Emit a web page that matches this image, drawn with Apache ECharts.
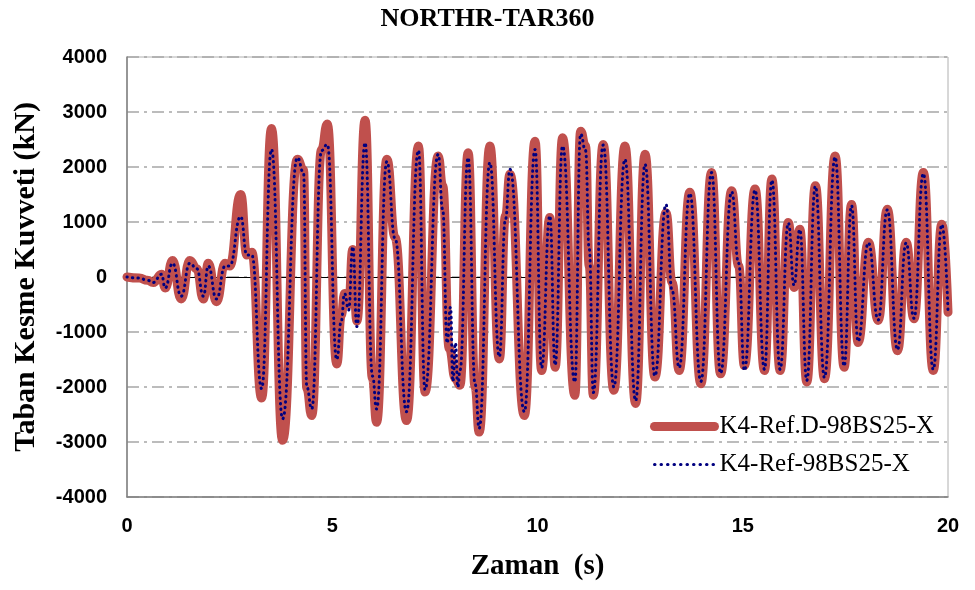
<!DOCTYPE html>
<html>
<head>
<meta charset="utf-8">
<script src="https://cdn.jsdelivr.net/npm/echarts@6/dist/echarts.min.js"></script>
<style>
    html, body { margin: 0; padding: 0; background: #fff; }
    #chart { width: 975px; height: 590px; }
</style>
</head>
<body>
<div id="chart"></div>
<script>
    // peaks and troughs (time s, force kN)
    var redTime = [0, 0.3, 0.5, 0.64, 0.84, 0.93, 1.11, 1.32, 1.53, 1.70, 1.86, 1.98, 2.18, 2.39, 2.50, 2.77, 2.92, 3.04,
        3.28, 3.52, 3.79, 4.15, 4.30, 4.38, 4.50, 4.74, 4.88, 5.11, 5.22, 5.30, 5.40, 5.50, 5.60, 5.80, 5.98, 6.08,
        6.33, 6.53, 6.81, 7.10, 7.26, 7.58, 7.69, 7.85, 8.00, 8.11, 8.31, 8.48, 8.58, 8.84, 9.07, 9.22, 9.33, 9.68,
        9.94, 10.10, 10.30, 10.43, 10.61, 10.91, 11.05, 11.17, 11.26, 11.36, 11.60, 11.86, 12.13, 12.39, 12.62, 12.86,
        13.13, 13.28, 13.45, 13.71, 13.98, 14.24, 14.46, 14.73, 14.90, 15.04, 15.30, 15.53, 15.71, 15.91, 16.11, 16.25,
        16.39, 16.56, 16.77, 16.99, 17.25, 17.47, 17.65, 17.81, 18.06, 18.30, 18.52, 18.77, 18.98, 19.17, 19.40, 19.64,
        19.85, 20.0]
    var redForce = [0, -20, -60, -100, 50, -200, 300, -400, 300, 150, -400, 250, -450, 250, 200, 1500, 400, 450,
        -2200, 2700, -2970, 2140, 1950, -2030, -2520, 2320, 2780, -1580, -700, -300, -500, 500, -800, 2850, -1850, -2640,
        2140, 720, -2610, 2380, -2090, 2200, 1660, -1300, -1850, -1970, 2260, -2000, -2820, 2380, -1490, 1110, 1870, -2520,
        2470, -1700, 1080, -1640, 2530, -2150, 2650, 2380, 200, -2150, 2410, -2060, 2380, -2300, 2230, -1820,
        1170, -100, -1700, 1540, -1940, 1900, -1760, 1570, 200, -1610, 1600, -1700, 1780, -1700, 990, -190,
        870, -1910, 1660, -1850, 2200, -1640, 1320, -1190, 630, -790, 1230, -1340, 630, -760, 1900, -1700,
        960, -640]

    var blueTime = [0, 0.3, 0.5, 0.64, 0.84, 0.93, 1.11, 1.32, 1.53, 1.70, 1.86, 1.98, 2.18, 2.39, 2.50, 2.77, 2.92, 3.04,
        3.28, 3.52, 3.79, 4.15, 4.30, 4.38, 4.50, 4.74, 4.88, 5.11, 5.22, 5.30, 5.40, 5.50, 5.60, 5.80, 5.98, 6.08,
        6.33, 6.53, 6.81, 7.10, 7.26, 7.58, 7.69, 7.80, 7.88, 7.94, 8.00, 8.06, 8.11, 8.31, 8.48, 8.58, 8.84, 9.07,
        9.22, 9.33, 9.68, 9.94, 10.10, 10.30, 10.43, 10.61, 10.91, 11.05, 11.17, 11.26, 11.36, 11.60, 11.86, 12.13,
        12.39, 12.62, 12.86, 13.13, 13.28, 13.45, 13.71, 13.98, 14.24, 14.46, 14.73, 14.90, 15.04, 15.30, 15.53, 15.71,
        15.91, 16.11, 16.25, 16.39, 16.56, 16.77, 16.99, 17.25, 17.47, 17.65, 17.81, 18.06, 18.30, 18.52, 18.77, 18.98,
        19.17, 19.40, 19.64, 19.85, 20.0]
    var blueForce = [0, -20, -60, -100, 50, -200, 250, -350, 250, 150, -350, 200, -400, 200, 200, 1100, 400, 400,
        -2030, 2320, -2580, 2170, 1900, -2000, -2400, 2300, 2410, -1500, -800, -300, -600, 550, -900, 2440, -1800, -2400,
        2100, 700, -2450, 2300, -2050, 2230, 1230, -1200, -550, -1900, -1200, -2000, -1700, 2170, -1950, -2750, 2080, -1450,
        1050, 1960, -2450, 2320, -1650, 1110, -1600, 2380, -1910, 2600, 2300, 510, -2100, 2400, -2000, 2140,
        -2250, 2050, -1800, 1320, -250, -1650, 1520, -1900, 1900, -1750, 1550, 250, -1700, 1580, -1680, 1760,
        -1680, 980, -150, 860, -1880, 1650, -1830, 2180, -1620, 1300, -1170, 620, -780, 1220, -1320, 620,
        -750, 1880, -1680, 950, -620]

    var yTicks = [-4000, -3000, -2000, -1000, 0, 1000, 2000, 3000, 4000]

    function pairs(t, v) {
        return t.map(function (x, i) { return [x, v[i]] })
    }

    var chart = echarts.init(document.getElementById('chart'))
    chart.setOption({
        animation: false,
        backgroundColor: '#fff',
        title: {
            text: 'NORTHR-TAR360',
            left: 'center',
            top: 1,
            textStyle: { fontFamily: 'Liberation Serif', fontWeight: 'bold', fontSize: 26, color: '#000' }
        },
        grid: {
            left: 127, right: 27, top: 57, bottom: 93,
            show: true, borderColor: '#b0b0b0', borderWidth: 1
        },
        legend: {
            orient: 'vertical',
            left: 645,
            top: 409,
            itemWidth: 60,
            itemHeight: 16,
            itemGap: 13,
            itemStyle: { opacity: 0 },
            textStyle: { fontFamily: 'Liberation Serif', fontSize: 25, color: '#000' },
            data: [
                { name: 'K4-Ref.D-98BS25-X', lineStyle: { width: 9 } },
                { name: 'K4-Ref-98BS25-X', lineStyle: { width: 3, type: [0.5, 6] } }
            ]
        },
        xAxis: {
            type: 'value',
            min: 0, max: 20, interval: 5,
            name: 'Zaman  (s)',
            nameLocation: 'middle',
            nameGap: 55,
            nameTextStyle: { fontFamily: 'Liberation Serif', fontWeight: 'bold', fontSize: 29, color: '#000' },
            axisLine: { onZero: false, lineStyle: { color: '#808080', width: 1.5 } },
            axisTick: { show: false },
            splitLine: { show: false },
            axisLabel: { margin: 19, fontFamily: 'Liberation Sans', fontWeight: 'bold', fontSize: 20, color: '#000' }
        },
        yAxis: {
            type: 'value',
            min: -4000, max: 4000, interval: 1000,
            name: 'Taban Kesme Kuvveti (kN)',
            nameLocation: 'middle',
            nameGap: 86,
            nameTextStyle: { fontFamily: 'Liberation Serif', fontWeight: 'bold', fontSize: 30, color: '#000' },
            axisLine: { show: true, lineStyle: { color: '#808080', width: 1.5 } },
            axisTick: { show: false },
            splitLine: { lineStyle: { color: '#a6a6a6', width: 1.5, type: [12, 5, 3, 5] } },
            axisLabel: {
                margin: 20, fontFamily: 'Liberation Sans', fontWeight: 'bold', fontSize: 20, color: '#000',
                formatter: function (v) { return yTicks.indexOf(v) >= 0 ? String(v) : '' }
            }
        },
        series: [
            {
                name: 'K4-Ref.D-98BS25-X',
                type: 'line',
                data: pairs(redTime, redForce),
                smooth: 0.5,
                smoothMonotone: 'x',
                showSymbol: false,
                symbol: 'none',
                itemStyle: { color: '#C0504D' },
                lineStyle: { color: '#C0504D', width: 9, cap: 'round', join: 'round' },
                markLine: {
                    silent: true,
                    symbol: 'none',
                    label: { show: false },
                    lineStyle: { color: '#000', width: 1, type: 'solid' },
                    data: [{ yAxis: 0 }],
                    z: 1
                },
                z: 2
            },
            {
                name: 'K4-Ref-98BS25-X',
                type: 'line',
                data: pairs(blueTime, blueForce),
                smooth: 0.5,
                smoothMonotone: 'x',
                showSymbol: false,
                symbol: 'none',
                itemStyle: { color: '#000080' },
                lineStyle: { color: '#000080', width: 3, type: [0.5, 5], cap: 'round' },
                z: 3
            }
        ]
    })
</script>
</body>
</html>
